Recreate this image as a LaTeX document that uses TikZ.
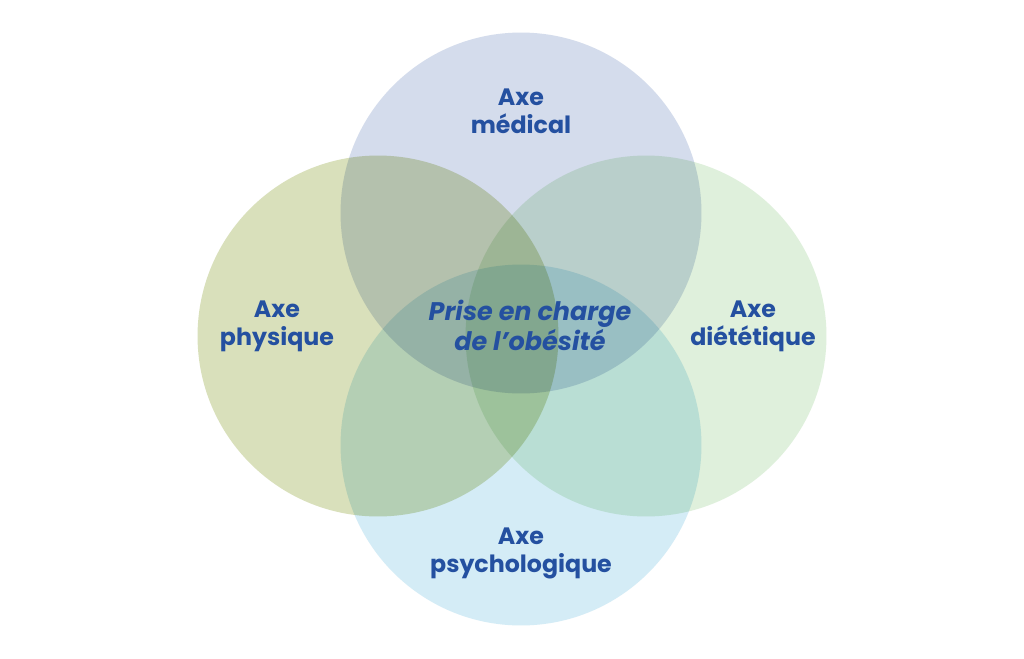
\documentclass[tikz,border=0pt]{standalone}
\usepackage{fontspec}
\setmainfont{Poppins}
\usetikzlibrary{positioning}
\definecolor{medcol}{HTML}{D4DCEC}
\definecolor{phycol}{HTML}{D9E0BB}
\definecolor{dietcol}{HTML}{DFF0DC}
\definecolor{psycol}{HTML}{D4ECF6}
\definecolor{axetext}{HTML}{2450A0}
\tikzset{
  axe/.style={circle, minimum size=7.22cm, inner sep=0pt},
  axelabel/.style={text=axetext, font=\fontsize{13.5}{16}\selectfont\bfseries,
                   align=center},
  centrelabel/.style={axelabel, font=\fontsize{14.5}{17}\selectfont\bfseries\itshape}
}
\begin{document}
\begin{tikzpicture}[x=0.02cm, y=-0.02cm]
\useasboundingbox (0,0) rectangle (1024,659);
\fill[white] (0,0) rectangle (1024,659);
\begin{scope}[blend mode=multiply]
\node[axe, fill=medcol]  (med)  at (521,213) {};
\node[axe, fill=phycol]  (phy)  at (378,336) {};
\node[axe, fill=dietcol] (diet) at (646,336) {};
\node[axe, fill=psycol]  (psy)  at (521,445) {};
\end{scope}

\node[axelabel] (medtxt)  at (521,111) {Axe\\médical};
\node[axelabel] (phytxt)  at (277,326) {Axe\\physique};
\node[axelabel] (diettxt) at (753,326) {Axe\\diététique};
\node[axelabel] (psytxt)  at (521,553) {Axe\\psychologique};
\node[centrelabel] (centre) at (530,325) {Prise en charge\\de l’obésité};
\end{tikzpicture}
\end{document}
